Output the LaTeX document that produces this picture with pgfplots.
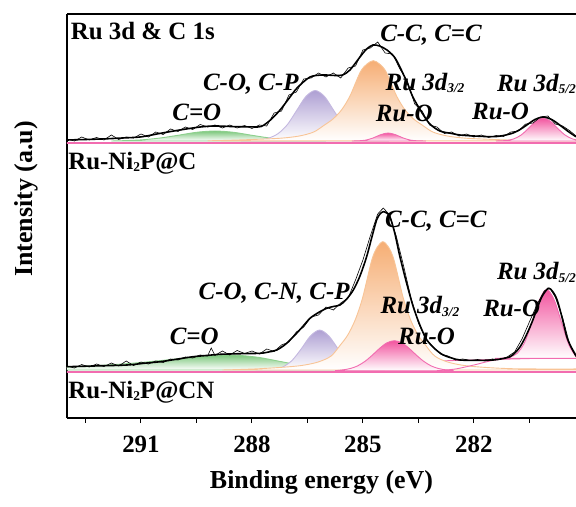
\documentclass[border=0pt]{standalone}
\usepackage{fontspec}
\setmainfont{Liberation Serif}
\usepackage{pgfplots}
\pgfplotsset{compat=1.18}
\definecolor{gfill}{HTML}{7CC77C}
\definecolor{gline}{HTML}{8DD08D}
\definecolor{pfill}{HTML}{AE9FD3}
\definecolor{pline}{HTML}{C4B8E0}
\definecolor{ofill}{HTML}{F6AE74}
\definecolor{oline}{HTML}{F8C496}
\definecolor{kfill}{HTML}{F2559F}
\definecolor{kline}{HTML}{F26CB0}
\newcommand{\lf}{\fontsize{25}{28}\selectfont\bfseries\itshape}
\newcommand{\bfl}{\fontsize{25}{28}\selectfont\bfseries}
\newcommand{\sub}[1]{\raisebox{-2.5bp}{\fontsize{13.5}{13.5}\selectfont #1}}
\begin{document}
\begin{tikzpicture}
\begin{axis}[
  scale only axis, width=509bp, height=404bp,
  xmin=279.24, xmax=293.0, ymin=0, ymax=404, x dir=reverse,
  axis x line*=box, axis y line*=left,
  axis line style={line width=1.1bp},
  ytick=\empty,
  xtick={282,285,288,291}, minor xtick={280.5,283.5,286.5,289.5,292.5},
  xtick pos=left, tick align=outside,
  major tick length=5bp, minor tick length=4.5bp,
  every tick/.style={black, line width=1bp},
  tick label style={font=\fontsize{25}{25}\selectfont\bfseries},
  /pgf/number format/assume math mode=true,
  xticklabel style={yshift=-9bp},
  comp/.style={smooth, tension=0.5, line width=0.9bp},
]
\coordinate (bl) at (axis cs:293.0,0);
\coordinate (tr) at (axis cs:279.24,404);
% ---------------- top spectrum: Ru-Ni2P@C ----------------
\addplot[comp, draw=gline, top color=gfill, bottom color=white] coordinates {
(291.8,277) (291.5,277.3) (291,278.1) (290.5,279.9) (290,282.7) (289.5,285.7) (289,287) (288.5,285.7) (288,282.7) (287.5,279.9) (287,278.1) (286.5,277.3) (286,277)} -- cycle;
\addplot[comp, draw=pline, top color=pfill, bottom color=white] coordinates {
(288.3,277.1) (287.8,278.2) (287.54,280) (287.29,284.5) (287.04,293.5) (286.79,307.6) (286.54,321.6) (286.29,327.5) (286.04,321.6) (285.79,307.6) (285.54,293.5) (285.29,284.5) (285.04,280) (284.79,278.2) (284.3,277.1)} -- cycle;
\addplot[comp, draw=oline, top color=ofill, bottom color=white] coordinates {
(289.2,277.2) (288.72,277.6) (287.92,278.6) (287.22,279.8) (286.72,282) (286.33,286) (286.04,293) (285.81,299) (285.58,308) (285.35,322) (285.07,346) (284.89,354) (284.72,357.3) (284.55,354) (284.37,346) (284.09,322) (283.86,308) (283.63,299) (283.40,293) (283.11,286) (282.72,282) (282.22,279.8) (281.52,278.6) (280.72,277.6) (279.8,277.2) (279.1,277.1)} -- cycle;
\addplot[comp, draw=kline, top color=kfill, bottom color=white] coordinates {
(285.3,277) (285.12,277.2) (284.92,277.9) (284.72,280.1) (284.52,283.3) (284.32,285) (284.12,283.3) (283.92,280.1) (283.72,277.9) (283.52,277.2) (283.3,277)} -- cycle;
\addplot[comp, draw=kline, top color=kfill, bottom color=white] coordinates {
(281.4,277) (281.13,277.5) (280.93,279) (280.73,282.8) (280.53,289.4) (280.33,296.7) (280.13,300) (279.93,296.7) (279.73,289.4) (279.53,282.8) (279.33,279) (279.13,277.5) (279.0,277)} -- cycle;
\addplot[kline, line width=2.2bp] coordinates {(293.2,275) (279.0,275)};
% raw data
\addplot[black, line width=0.6bp] coordinates {
(293.0,279) (292.8,277) (292.6,281) (292.4,278) (292.2,280.5) (292.0,278) (291.8,283) (291.6,278.5) (291.4,281) (291.2,280) (291.0,284) (290.8,281) (290.6,286) (290.4,283.5) (290.2,289) (290.0,286.5) (289.8,291) (289.6,288.5) (289.4,293.5) (289.2,291) (289.0,293) (288.8,290) (288.6,293) (288.4,290) (288.2,292.5) (288.0,289.5) (287.8,293) (287.6,292) (287.4,305) (287.2,307) (287.0,323) (286.8,326) (286.6,339) (286.4,340) (286.2,345) (286.0,341) (285.8,345) (285.6,340) (285.4,350) (285.2,352) (285.0,368) (284.8,370) (284.6,376) (284.4,365) (284.2,364) (284.0,349) (283.8,337) (283.6,314) (283.4,307) (283.2,293) (283.0,291) (282.8,284.5) (282.6,286) (282.4,282) (282.2,284) (282.0,281) (281.8,283) (281.6,280.5) (281.4,282.5) (281.2,281.5) (281.0,286) (280.8,287) (280.6,294) (280.4,295) (280.2,301) (280.0,302) (279.8,294) (279.6,292) (279.4,287) (279.24,282)};
% envelope
\addplot[black, smooth, tension=0.5, line width=1.6bp] coordinates {
(293.0,278) (292.5,278.5) (292.0,279.1) (291.5,280) (291.0,281.1) (290.5,284.5) (290.0,287.7) (289.4,291) (289.0,292) (288.5,291.4) (288.0,291.1) (287.75,291.5) (287.5,298) (287.24,308) (287.0,319.5) (286.78,330) (286.43,341) (286.08,343) (285.75,342.5) (285.55,343) (285.35,348) (285.08,361) (284.9,369) (284.73,373) (284.55,372) (284.35,368) (284.15,361) (284.0,351) (283.8,335) (283.65,321) (283.4,305) (283.19,294) (282.92,287) (282.6,284.5) (282.38,283) (282.0,282) (281.48,281.3) (281.2,282.5) (280.94,285) (280.75,288.5) (280.57,293) (280.35,298.5) (280.13,301) (279.9,298.5) (279.68,293) (279.45,286.5) (279.24,281.3)};
% ---------------- bottom spectrum: Ru-Ni2P@CN ----------------
\addplot[kline, line width=2.2bp] coordinates {(293.2,46.3) (279.0,46.3)};
\addplot[kline, line width=0.9bp] coordinates {(293.2,50) (287.2,52.5) (285.6,54.5) (279.0,60.9)};
\addplot[comp, draw=gline, top color=gfill, bottom color=white] coordinates {
(293.5,48) (293.0,50.8) (292.5,51.8) (292,52.8) (291.5,54) (291,55.5) (290.5,57.3) (290,59.2) (289.5,61) (289,62.5) (288.72,63) (288.3,62.5) (287.8,60.5) (287.3,57) (286.8,53.5) (286.3,50.5) (285.8,49) (285.3,48.3) (284.8,48)} -- cycle;
\addplot[comp, draw=pline, top color=pfill, bottom color=white] coordinates {
(287.9,48) (287.67,48.1) (287.42,48.7) (287.17,51) (286.92,57.4) (286.67,69) (286.42,82) (286.17,88) (285.92,82) (285.67,69) (285.42,57.4) (285.17,51) (284.92,48.7) (284.67,48.1) (284.4,48)} -- cycle;
\addplot[comp, draw=oline, top color=ofill, bottom color=white] coordinates {
(288.8,48) (287.96,49) (287.26,50.5) (286.66,52.5) (286.21,56) (285.86,62) (285.61,73) (285.41,83) (285.21,98) (285.01,120) (284.76,158) (284.61,171) (284.46,176.3) (284.31,171) (284.16,158) (283.91,120) (283.71,98) (283.51,83) (283.31,73) (283.06,62) (282.71,56) (282.26,52.5) (281.66,50.5) (280.96,49.3) (280,49) (279.0,49) (278.9,48)} -- cycle;
\addplot[comp, draw=kline, top color=kfill, bottom color=white] coordinates {
(285.75,47.3) (285.55,48.1) (285.35,49.4) (285.15,52) (284.95,56.5) (284.75,62.7) (284.55,69.6) (284.35,75.2) (284.15,77.3) (283.95,75.2) (283.75,69.6) (283.55,62.7) (283.35,56.5) (283.15,52) (282.95,49.4) (282.75,48.1) (282.55,47.3)} -- cycle;
\addplot[kline, smooth, tension=0.5, line width=0.9bp] coordinates {(283.0,47.3) (282.5,49) (282.0,53) (281.5,57.5) (281.0,59.5) (280.0,59.8) (279.0,60)};
\addplot[comp, draw=kline, top color=kfill, bottom color=white] coordinates {
(281.43,59.7) (281.23,59.9) (281.03,60.9) (280.83,64.7) (280.63,75.5) (280.43,95.5) (280.23,118.1) (280.03,128.7) (279.83,118.1) (279.63,95.5) (279.43,73) (279.23,61.5) (279.03,59.8) (278.83,59.7)} -- cycle;
% raw data
\addplot[black, line width=0.6bp] coordinates {
(293.0,52) (292.8,50) (292.6,53.5) (292.4,51) (292.2,54) (292.0,51.5) (291.8,55) (291.6,52) (291.4,57) (291.2,52.5) (291.0,56) (290.8,54) (290.6,57) (290.4,55.5) (290.2,59) (290.0,58) (289.8,61) (289.6,60) (289.4,63) (289.2,62) (289.1,70) (289.0,62.5) (288.8,67) (288.6,63) (288.4,67.5) (288.2,64.5) (288.0,67) (287.8,64) (287.6,69) (287.4,66.5) (287.2,73) (287.0,76) (286.8,86) (286.6,91) (286.4,101) (286.2,103) (286.0,111) (285.8,108) (285.6,115) (285.4,120) (285.2,138) (285.0,158) (284.8,182) (284.6,204) (284.45,210) (284.3,204) (284.1,182) (283.9,152) (283.7,120) (283.5,95) (283.3,79) (283.1,71) (282.9,64) (282.7,62) (282.5,58) (282.3,59) (282.1,57.5) (281.9,58.5) (281.7,57) (281.5,59) (281.3,58.5) (281.1,61) (280.9,66) (280.7,79) (280.5,96) (280.3,113) (280.1,127) (279.95,130) (279.8,121) (279.6,100) (279.4,72) (279.24,61)};
% envelope
\addplot[black, smooth, tension=0.5, line width=1.6bp] coordinates {
(293.0,51.3) (292.2,52.1) (291.38,53) (290.9,54.8) (290.48,56.3) (290.0,59) (289.59,61.3) (289.2,62.6) (288.86,63.7) (288.3,64.3) (287.78,64.7) (287.55,66) (287.33,68) (287.1,73.5) (286.88,81.3) (286.65,90.5) (286.43,99.7) (286.2,105.5) (285.98,109.7) (285.8,111.5) (285.62,113) (285.45,118.5) (285.26,128) (285.08,142) (284.90,161.3) (284.75,182) (284.63,198) (284.54,204) (284.45,206.3) (284.36,205) (284.27,201.3) (284.14,185) (284.00,161.3) (283.82,135) (283.64,111.3) (283.45,92) (283.27,78) (283.05,69) (282.83,63) (282.6,60) (282.38,58) (281.9,57.6) (281.48,58) (281.25,59.2) (281.02,61.3) (280.88,65.5) (280.75,71.3) (280.62,80) (280.48,91.3) (280.38,100.5) (280.29,110) (280.15,122) (279.99,129.7) (279.87,126.5) (279.75,118) (279.62,101) (279.49,81.3) (279.37,71) (279.24,62.5)};
% ---------------- labels ----------------
\node[anchor=west, inner sep=0pt] at (axis cs:292.9,387) {\bfl Ru 3d \& C 1s};
\node[anchor=west, inner sep=0pt] at (axis cs:292.97,255) {\bfl Ru-Ni\sub{2}P@C};
\node[anchor=west, inner sep=0pt] at (axis cs:292.97,26) {\bfl Ru-Ni\sub{2}P@CN};
\node[inner sep=0pt] at (axis cs:283.16,382.5) {\lf C-C, C=C};
\node[inner sep=0pt] at (axis cs:288.03,334) {\lf C-O, C-P};
\node[inner sep=0pt] at (axis cs:289.49,305.5) {\lf C=O};
\node[inner sep=0pt] at (axis cs:283.32,335) {\lf Ru 3d\sub{3/2}};
\node[inner sep=0pt] at (axis cs:283.88,305) {\lf Ru-O};
\node[inner sep=0pt] at (axis cs:281.28,306.5) {\lf Ru-O};
\node[inner sep=0pt] at (axis cs:280.31,334) {\lf Ru 3d\sub{5/2}};
\node[inner sep=0pt] at (axis cs:283.03,196.5) {\lf C-C, C=C};
\node[inner sep=0pt] at (axis cs:287.40,125) {\lf C-O, C-N, C-P};
\node[inner sep=0pt] at (axis cs:289.56,81.5) {\lf C=O};
\node[inner sep=0pt] at (axis cs:283.46,111.5) {\lf Ru 3d\sub{3/2}};
\node[inner sep=0pt] at (axis cs:283.28,81.5) {\lf Ru-O};
\node[inner sep=0pt] at (axis cs:280.98,109.5) {\lf Ru-O};
\node[inner sep=0pt] at (axis cs:280.31,145.5) {\lf Ru 3d\sub{5/2}};
\end{axis}
\node[rotate=90, inner sep=0pt] at ([xshift=-41bp,yshift=219bp]bl) {\fontsize{26}{28}\selectfont\bfseries Intensity (a.u)};
\node[inner sep=0pt] at ([xshift=254.5bp,yshift=-64bp]bl) {\fontsize{26}{28}\selectfont\bfseries Binding energy (eV)};
\pgfresetboundingbox
\path ([xshift=-67bp,yshift=-89bp]bl) rectangle ([yshift=14bp]tr);
\end{tikzpicture}
\end{document}
